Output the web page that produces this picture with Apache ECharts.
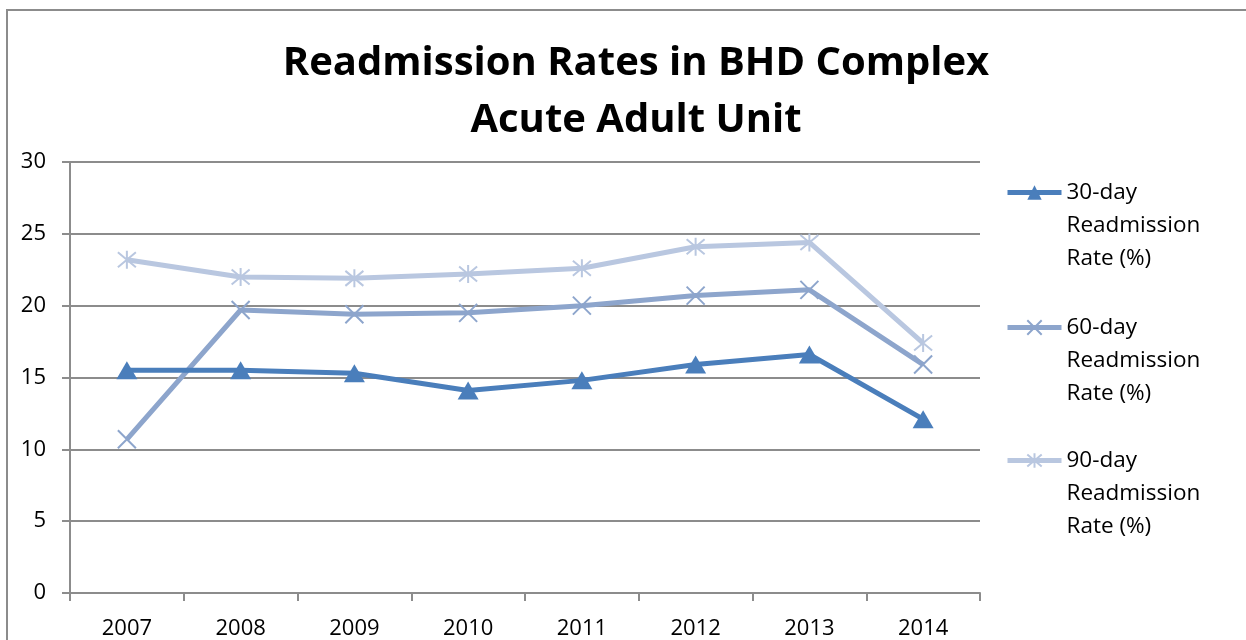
<!DOCTYPE html>
<html>
<head>
<meta charset="utf-8">
<script src="https://cdn.jsdelivr.net/npm/echarts@6/dist/echarts.min.js"></script>
<style>
  html, body { margin: 0; padding: 0; background: #fff; }
  #chart { width: 1246px; height: 640px; }
</style>
</head>
<body>
<div id="chart"></div>
<script>
const years = ['2007', '2008', '2009', '2010', '2011', '2012', '2013', '2014']
const rate30 = [15.5, 15.5, 15.3, 14.1, 14.8, 15.9, 16.6, 12.1]
const rate60 = [10.7, 19.7, 19.4, 19.5, 20.0, 20.7, 21.1, 15.9]
const rate90 = [23.2, 22.0, 21.9, 22.2, 22.6, 24.1, 24.4, 17.4]
const seriesNames = ['30-day\nReadmission\nRate (%)', '60-day\nReadmission\nRate (%)', '90-day\nReadmission\nRate (%)']

const colors = ['#4a7ebb', '#8da5cc', '#b9c7e0']
const gridGray = '#8c8c8c'
const font = '"Open Sans", sans-serif'

const crossPath = 'path://M0,0L10,10M10,0L0,10'
const starPath = 'path://M0,0L10,10M10,0L0,10M5,-1L5,11'

const chart = echarts.init(document.getElementById('chart'))

// icon sits on the first text line: two blank lines above keep it centred there
const makeLegend = (name, top) => ({
  data: [name],
  orient: 'vertical',
  left: 1005,
  top: top,
  padding: 0,
  itemWidth: 54,
  itemHeight: 18,
  itemGap: 0,
  selectedMode: false,
  formatter: (n) => '\n\n' + n,
  lineStyle: { width: 5 },
  textStyle: {
    color: '#000',
    fontSize: 22.5,
    fontFamily: font,
    lineHeight: 33
  }
})

const option = {
  backgroundColor: '#fff',
  animation: false,
  title: {
    text: 'Readmission Rates in BHD Complex\nAcute Adult Unit',
    left: 631,
    textAlign: 'center',
    top: 30,
    textStyle: {
      fontFamily: font,
      fontWeight: 'bold',
      fontSize: 40,
      lineHeight: 57,
      color: '#000'
    }
  },
  graphic: [{
    type: 'rect',
    shape: { x: 7, y: 10, width: 1400, height: 800 },
    style: { fill: 'none', stroke: '#8c8c8c', lineWidth: 2 },
    silent: true
  }],
  legend: [
    makeLegend(seriesNames[0], 110),
    makeLegend(seriesNames[1], 245),
    makeLegend(seriesNames[2], 378)
  ],
  grid: { left: 70, right: 266, top: 162, bottom: 46, containLabel: false },
  xAxis: {
    type: 'category',
    data: years,
    boundaryGap: true,
    axisLine: { lineStyle: { color: gridGray, width: 2 } },
    axisTick: { show: true, length: 8, lineStyle: { color: gridGray, width: 2 } },
    axisLabel: { color: '#000', fontSize: 22, fontFamily: font, margin: 25 },
    splitLine: { show: false }
  },
  yAxis: {
    type: 'value',
    min: 0,
    max: 30,
    interval: 5,
    axisLine: { show: true, lineStyle: { color: gridGray, width: 2 } },
    axisTick: { show: true, length: 8, lineStyle: { color: gridGray, width: 2 } },
    axisLabel: { color: '#000', fontSize: 22, fontFamily: font, margin: 24 },
    splitLine: { lineStyle: { color: gridGray, width: 2 } }
  },
  series: [
    {
      name: seriesNames[0],
      type: 'line',
      data: rate30,
      symbol: 'triangle',
      symbolSize: [21, 18],
      showAllSymbol: true,
      lineStyle: { color: colors[0], width: 5 },
      itemStyle: { color: colors[0] },
      z: 4
    },
    {
      name: seriesNames[1],
      type: 'line',
      data: rate60,
      symbol: crossPath,
      symbolSize: 18,
      showAllSymbol: true,
      lineStyle: { color: colors[1], width: 5 },
      itemStyle: { color: 'rgba(0,0,0,0)', borderColor: colors[1], borderWidth: 2 },
      z: 3
    },
    {
      name: seriesNames[2],
      type: 'line',
      data: rate90,
      symbol: starPath,
      symbolSize: 18,
      showAllSymbol: true,
      lineStyle: { color: colors[2], width: 5 },
      itemStyle: { color: 'rgba(0,0,0,0)', borderColor: colors[2], borderWidth: 2 },
      z: 2
    }
  ]
}

chart.setOption(option)
</script>
</body>
</html>
